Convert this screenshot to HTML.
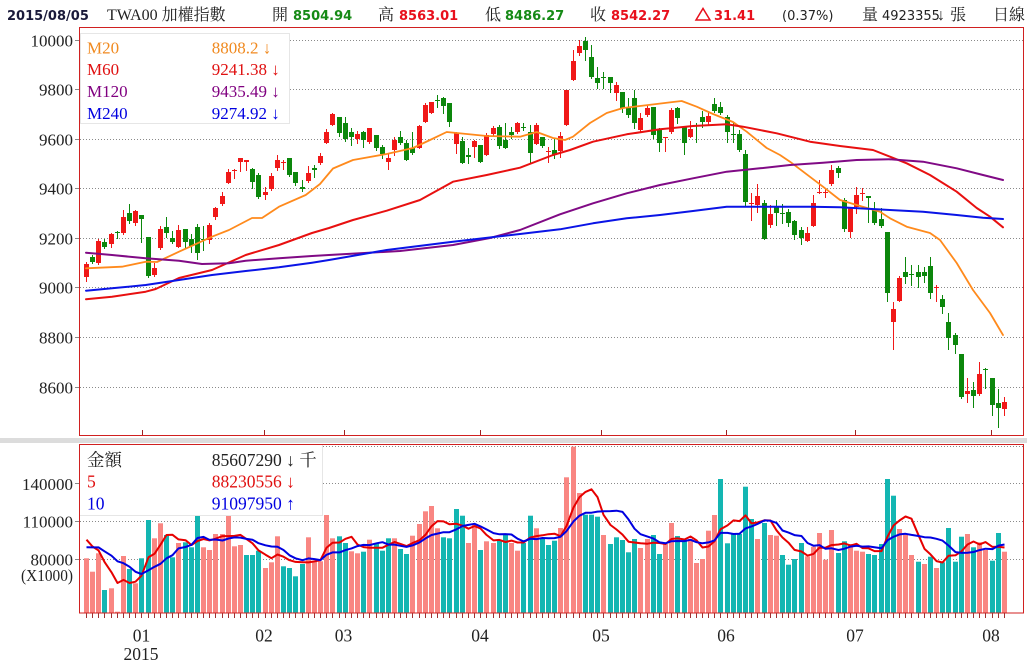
<!DOCTYPE html>
<html><head><meta charset="utf-8">
<style>
html,body{margin:0;padding:0;background:#fff;}
body{width:1027px;height:664px;overflow:hidden;position:relative;}
svg{position:absolute;left:0;top:0;}
.hd{font-family:"DejaVu Sans",sans-serif;font-size:13px;font-weight:bold;}
.hn{font-family:"DejaVu Sans",sans-serif;font-size:13px;fill:#222;}
.cj{font-family:"Liberation Serif","Noto Serif CJK SC",serif;font-size:16px;fill:#222;}
.ax{font-family:"Liberation Serif",serif;font-size:17px;fill:#222;}
.lg{font-family:"Liberation Serif","Noto Serif CJK SC",serif;font-size:17px;}
.lv{font-family:"Liberation Serif","Noto Serif CJK SC",serif;font-size:17.5px;}
</style></head><body>
<svg id="svg" width="1027" height="664" xmlns="http://www.w3.org/2000/svg">
<rect x="0" y="0" width="1027" height="664" fill="#fff"/>
<!-- header -->
<text x="7" y="20" class="hd" fill="#1a1a3a">2015/08/05</text>
<text x="107" y="20" class="cj">TWA00 加權指數</text>
<text x="272" y="20" class="cj">開</text>
<text x="293" y="20" class="hd" fill="#168a16">8504.94</text>
<text x="378" y="20" class="cj">高</text>
<text x="399" y="20" class="hd" fill="#e8101c">8563.01</text>
<text x="485" y="20" class="cj">低</text>
<text x="505" y="20" class="hd" fill="#168a16">8486.27</text>
<text x="590" y="20" class="cj">收</text>
<text x="611" y="20" class="hd" fill="#e8101c">8542.27</text>
<polygon points="696,20 710,20 703,8.5" fill="none" stroke="#e8101c" stroke-width="1.5"/>
<text x="714" y="20" class="hd" fill="#e8101c">31.41</text>
<text x="782" y="20" class="hn">(0.37%)</text>
<text x="862" y="20" class="cj">量</text>
<text x="882" y="20" class="hn">4923355</text>
<text x="937" y="20" class="cj">↓</text>
<text x="950" y="20" class="cj">張</text>
<text x="993" y="20" class="cj">日線</text>

<!-- main grid -->
<g stroke="#8a8a8a" stroke-width="1" stroke-dasharray="1 2">
<line x1="80" y1="40.5" x2="1023" y2="40.5"/>
<line x1="80" y1="89.5" x2="1023" y2="89.5"/>
<line x1="80" y1="139.5" x2="1023" y2="139.5"/>
<line x1="80" y1="188.5" x2="1023" y2="188.5"/>
<line x1="80" y1="238.5" x2="1023" y2="238.5"/>
<line x1="80" y1="287.5" x2="1023" y2="287.5"/>
<line x1="80" y1="337.5" x2="1023" y2="337.5"/>
<line x1="80" y1="387.5" x2="1023" y2="387.5"/>
</g>
<g stroke="#888" stroke-width="1">
<line x1="75" y1="40.5" x2="79" y2="40.5"/>
<line x1="75" y1="89.5" x2="79" y2="89.5"/>
<line x1="75" y1="139.5" x2="79" y2="139.5"/>
<line x1="75" y1="188.5" x2="79" y2="188.5"/>
<line x1="75" y1="238.5" x2="79" y2="238.5"/>
<line x1="75" y1="287.5" x2="79" y2="287.5"/>
<line x1="75" y1="337.5" x2="79" y2="337.5"/>
<line x1="75" y1="387.5" x2="79" y2="387.5"/>
<line x1="75" y1="483.5" x2="79" y2="483.5"/>
<line x1="75" y1="521.5" x2="79" y2="521.5"/>
<line x1="75" y1="559.5" x2="79" y2="559.5"/>
</g>
<g class="ax" text-anchor="end">
<text x="73" y="46.7">10000</text>
<text x="73" y="95.7">9800</text>
<text x="73" y="145.5">9600</text>
<text x="73" y="194.7">9400</text>
<text x="73" y="244.5">9200</text>
<text x="73" y="293.7">9000</text>
<text x="73" y="343.5">8800</text>
<text x="73" y="393.5">8600</text>
</g>

<g id="gc"></g>

<!-- moving averages -->
<g fill="none" stroke-linejoin="round" stroke-linecap="round">
<polyline stroke="#ff8a1c" stroke-width="1.8" points="86,268.3 122,266.7 145.7,261.7 157,262 179,251.7 212,236.7 229,230 252,218 262,218 279,206.7 305.7,195 320,184 333,168.5 353,160 386.7,154 413,148 430,140 446.7,132 456.7,133 486.7,136 520,136.7 536.7,132 553,138 565,140 573,136.7 590,123 606.7,113 623,108 640,106 673,102 681.7,101 696.7,106.7 713,114 733,122 746.7,131.7 766.7,148 780,155 790,161.7 823,186.7 840,200 856.7,205 880,211.7 890,218.3 906.7,226.7 930,233 940,240 956.7,263 973,290 990,313 1003,335"/>
<polyline stroke="#e81010" stroke-width="2" points="86,299.3 112,296.7 145.7,291.7 155.7,289 179,278 212,270 245.7,255 279,245 312,233 329,228 353,220 386.7,210.7 420,200 453,181.7 486.7,175 520,167.7 553,155 570,150 593,141.7 626.7,134.3 660,129.3 693,126 726.7,124.3 743,126.7 776.7,133.3 810,141.7 840,146 873,150 890,156.7 906.7,163.3 930,175 956.7,191.7 976.7,208 990,216.7 1003,227.3"/>
<polyline stroke="#800a85" stroke-width="2" points="86,252.7 112,255 145.7,258.3 179,260.7 202,264 229,263.3 245.7,260.7 279,258.3 312,256 329,255 400,251 453,245 490,238 520,230 560,214.3 593,203.3 626.7,193.3 660,185 693,178.3 726.7,171.7 760,168.3 790,165 823,162.7 856.7,160 890,159.3 923,161.7 956.7,168.3 983,175 1003,180"/>
<polyline stroke="#0a14e6" stroke-width="2" points="86,290.7 112,288.3 145.7,285 179,280 212,275 245.7,271 279,267.3 312,262.7 329,260 386.7,250 453,241.7 520,234 560,229.3 593,223.3 626.7,218.3 660,215 693,211 726.7,206.7 760,206.7 810,206.7 840,207.3 890,210 923,211.7 956.7,215 983,217.7 1003,219"/>
</g>

<!-- main legend -->
<rect x="80.5" y="33.5" width="209" height="90" fill="#fff" stroke="#e6e6e6"/>
<g class="lg">
<text x="87" y="53.3" fill="#f08a20">M20</text>
<text x="211.7" y="53.3" fill="#f08a20">8808.2 ↓</text>
<text x="87" y="75.2" fill="#e01010">M60</text>
<text x="211.7" y="75.2" fill="#e01010">9241.38 ↓</text>
<text x="87" y="97.2" fill="#800080">M120</text>
<text x="211.7" y="97.2" fill="#800080">9435.49 ↓</text>
<text x="87" y="119" fill="#0000e0">M240</text>
<text x="211.7" y="119" fill="#0000e0">9274.92 ↓</text>
</g>

<!-- main frame -->
<rect x="79.5" y="27.5" width="944" height="408" fill="none" stroke="#d02020" stroke-width="1"/>
<g stroke="#a02020" stroke-width="1">
<line x1="142.5" y1="430" x2="142.5" y2="435"/>
<line x1="264.5" y1="430" x2="264.5" y2="435"/>
<line x1="344.5" y1="430" x2="344.5" y2="435"/>
<line x1="480.5" y1="430" x2="480.5" y2="435"/>
<line x1="601.5" y1="430" x2="601.5" y2="435"/>
<line x1="726.5" y1="430" x2="726.5" y2="435"/>
<line x1="855.5" y1="430" x2="855.5" y2="435"/>
<line x1="991.5" y1="430" x2="991.5" y2="435"/>
</g>

<!-- separator -->
<rect x="0" y="438" width="1027" height="5" fill="#dcdcdc"/>

<!-- volume grid -->
<g stroke="#8a8a8a" stroke-width="1" stroke-dasharray="1 2">
<line x1="80" y1="446.5" x2="1023" y2="446.5"/>
<line x1="80" y1="483.5" x2="1023" y2="483.5"/>
<line x1="80" y1="521.5" x2="1023" y2="521.5"/>
<line x1="80" y1="559.5" x2="1023" y2="559.5"/>
</g>
<g class="ax" text-anchor="end">
<text x="73" y="490">140000</text>
<text x="73" y="527.5">110000</text>
<text x="73" y="565.5">80000</text>
<text x="73" y="581" textLength="52" lengthAdjust="spacingAndGlyphs">(X1000)</text>
</g>

<g id="gv"></g>

<!-- volume legend -->
<rect x="79.5" y="444.5" width="243" height="71" fill="#fff" stroke="#e6e6e6"/>
<g class="lv">
<text x="87" y="466" fill="#222">金額</text>
<text x="211.7" y="466" fill="#222">85607290 ↓ 千</text>
<text x="87" y="487.7" fill="#e01010">5</text>
<text x="211.7" y="487.7" fill="#e01010">88230556 ↓</text>
<text x="87" y="509.5" fill="#0000e0">10</text>
<text x="211.7" y="509.5" fill="#0000e0">91097950 ↑</text>
</g>

<!-- volume frame -->
<rect x="79.5" y="444.5" width="944" height="168.5" fill="none" stroke="#d02020" stroke-width="1"/>
<g id="gt"></g>

<!-- x labels -->
<g class="ax" text-anchor="middle" style="font-size:17.5px">
<text x="141.5" y="641.7">01</text>
<text x="141" y="660">2015</text>
<text x="264" y="641.7">02</text>
<text x="343.5" y="641.7">03</text>
<text x="480" y="641.7">04</text>
<text x="601" y="641.7">05</text>
<text x="726" y="641.7">06</text>
<text x="855" y="641.7">07</text>
<text x="991" y="641.7">08</text>
</g>
</svg>
<script>
(function(){
var NS="http://www.w3.org/2000/svg";
function el(g,t,a){var e=document.createElementNS(NS,t);for(var k in a)e.setAttribute(k,a[k]);g.appendChild(e);return e;}
var gc=document.getElementById('gc'),gv=document.getElementById('gv'),gt=document.getElementById('gt');
var C=[
['r',264,277,262,281],['g',257,262,255,263],['r',241,263,239,264],['g',242,247,239,248],['r',234,244,233,247],
['g',232,232,231,238],['r',217,233,210,234],['g',213,221,204,223],['r',211,223,210,225],['g',215,219,215,242],
['g',237,276,237,277],['r',268,275,263,276],['r',229,248,226,249],['g',227,233,217,237],['g',238,242,231,243],
['r',230,247,225,247],['g',229,242,229,247],['g',239,246,234,252],['g',227,253,224,259],['g',239,240,226,250],
['r',225,240,223,243],['r',208,217,207,219],['r',196,204,192,205],['r',172,183,169,183],['r',170,171,169,178],
['r',158,162,158,171],['r',160,162,160,170],['g',169,182,168,188],['g',175,197,173,198],['r',192,195,187,199],
['r',176,189,173,190],['r',160,168,155,170],['r',162,163,160,169],['g',158,175,158,176],['g',172,183,172,185],
['g',187,189,180,191],['r',173,181,166,182],['g',168,170,165,177],['r',156,163,153,164],['r',132,143,129,143],
['r',114,125,113,125],['g',117,133,117,136],['g',123,139,117,141],['g',132,137,128,145],['r',134,139,131,143],
['g',132,140,131,147],['r',128,142,128,143],['g',135,148,135,150],['g',147,154,145,158],['r',158,162,154,169],
['r',140,150,137,155],['g',137,143,131,144],['g',143,160,140,160],['g',148,153,132,154],['r',126,148,125,148],
['r',105,122,103,122],['r',102,113,102,113],['g',100,101,95,107],['g',98,106,97,113],['g',103,122,103,126],
['r',133,144,132,153],['g',141,163,137,163],['g',155,157,148,163],['r',141,147,140,157],['g',145,162,145,162],
['r',135,155,133,155],['r',128,134,126,135],['g',127,146,125,148],['g',140,148,123,148],['g',132,135,127,138],
['r',123,132,122,133],['g',127,128,123,130],['g',132,153,125,162],['r',125,144,123,144],['g',137,146,137,147],
['r',151,152,147,162],['g',150,155,138,158],['r',136,151,132,157],['r',90,125,90,125],['r',61,80,50,80],
['r',46,53,40,55],['g',41,50,37,60],['g',57,77,45,78],['g',78,83,67,88],['g',77,78,72,88],
['g',77,83,77,92],['r',85,93,82,100],['g',92,108,92,112],['g',108,115,98,117],['g',98,123,90,128],
['r',118,130,113,132],['r',108,115,105,116],['g',107,135,107,138],['g',130,143,128,151],['r',137,138,137,151],
['r',110,132,108,133],['g',108,118,107,123],['g',127,143,127,154],['r',129,137,121,137],['g',125,126,123,142],
['g',117,122,111,127],['r',116,122,111,125],['g',104,111,98,112],['g',107,113,102,114],['g',117,132,115,142],
['g',134,135,122,142],['g',134,150,130,151],['g',154,202,150,205],['r',203,204,193,220],['r',196,205,184,212],
['g',203,239,200,239],['r',214,225,205,227],['g',207,213,200,225],['g',213,214,204,223],['g',212,223,209,226],
['g',221,235,220,239],['g',230,238,227,244],['r',233,241,227,241],['r',203,226,195,226],['r',192,193,180,193],
['r',192,193,188,197],['r',170,184,165,185],['g',168,173,166,177],['g',200,229,198,231],['r',208,232,207,237],
['r',195,207,187,213],['r',193,194,188,200],['g',196,198,196,222],['g',210,223,202,224],['g',219,226,208,227],
['g',232,293,232,301],['r',309,322,302,349],['r',278,301,276,301],['g',272,277,257,283],['g',274,275,265,285],
['g',272,277,265,287],['g',272,276,267,282],['g',266,293,257,298],['r',287,288,285,301],['g',299,307,295,313],
['g',322,338,313,349],['g',335,345,333,353],['g',354,397,354,398],['r',391,394,378,402],['g',390,396,382,407],
['r',374,394,362,395],['g',369,370,368,388],['g',378,405,378,415],['g',403,408,389,427],['r',402,409,397,415]
];
var VZ=[343,383,328,438,433,503,336,375,418,343,
228,283,238,273,340,297,295,310,213,310,
318,270,270,213,307,303,333,333,320,372,
355,277,367,372,397,360,280,352,352,213,
283,277,297,322,328,323,287,297,320,283,
283,315,330,275,240,202,186,253,280,283,
195,215,297,242,318,292,297,290,273,297,
320,297,215,253,285,303,290,252,100,8,
147,212,212,218,273,300,280,288,325,285,
312,285,273,330,300,237,276,290,285,357,
345,260,213,105,298,270,270,128,225,285,
237,273,275,333,362,345,297,337,308,267,
347,258,327,292,300,320,323,330,333,300,
105,155,255,272,333,353,360,338,372,355,
252,353,278,270,310,295,318,350,267,323];
var VC="SSSTSSSTST"+"TSSTTSTTTS"+"SSSSSSTTTS"+"SSTTTTSSSS"+"STTSSTSTTT"+"STTSSSSSTT"+"TTSSTSSTTS"+"STTSTTTSSS"+"STTTSTTTTT"+"SSTTSSTTSS"+"SSSTTTTTTS"+"TSSTTTTSSS"+"SSTTSSSTTT"+"TTSSSTSTST"+"TTTSTSSTTS";
function X(i){return Math.round(86+i*6.16);}
var i,cx;
for(i=0;i<VZ.length;i++){
  cx=X(i);var y=444+VZ[i]/3;
  el(gv,'rect',{x:cx-2,y:y.toFixed(1),width:5,height:(613-y).toFixed(1),fill:VC.charAt(i)=='S'?'#f98682':'#13b6b2'});
}
var P=[380,330,320,300,335,280,270,265,277].concat(VZ);
function ma(n){var pts=[];for(var i=0;i<VZ.length;i++){var s=0;for(var j=0;j<n;j++)s+=P[i+9-j];pts.push((X(i)+0.5)+','+(444+s/n/3).toFixed(1));}return pts.join(' ');}
el(gv,'polyline',{points:ma(5),fill:'none',stroke:'#e60000','stroke-width':2,'stroke-linejoin':'round'});
el(gv,'polyline',{points:ma(10),fill:'none',stroke:'#0000e0','stroke-width':2,'stroke-linejoin':'round'});
for(i=0;i<VZ.length;i++){cx=X(i);el(gt,'line',{x1:cx+0.5,y1:613,x2:cx+0.5,y2:618,stroke:'#a03030','stroke-width':1});}
for(i=0;i<C.length;i++){
  var c=C[i];cx=X(i);var col=c[0]=='r'?'#f01818':'#0c870c';
  el(gc,'line',{x1:cx+0.5,y1:c[3],x2:cx+0.5,y2:c[4]+1,stroke:col,'stroke-width':1});
  el(gc,'rect',{x:cx-2,y:c[1],width:5,height:Math.max(1,c[2]-c[1]),fill:col});
}
})();
</script>
</body></html>
